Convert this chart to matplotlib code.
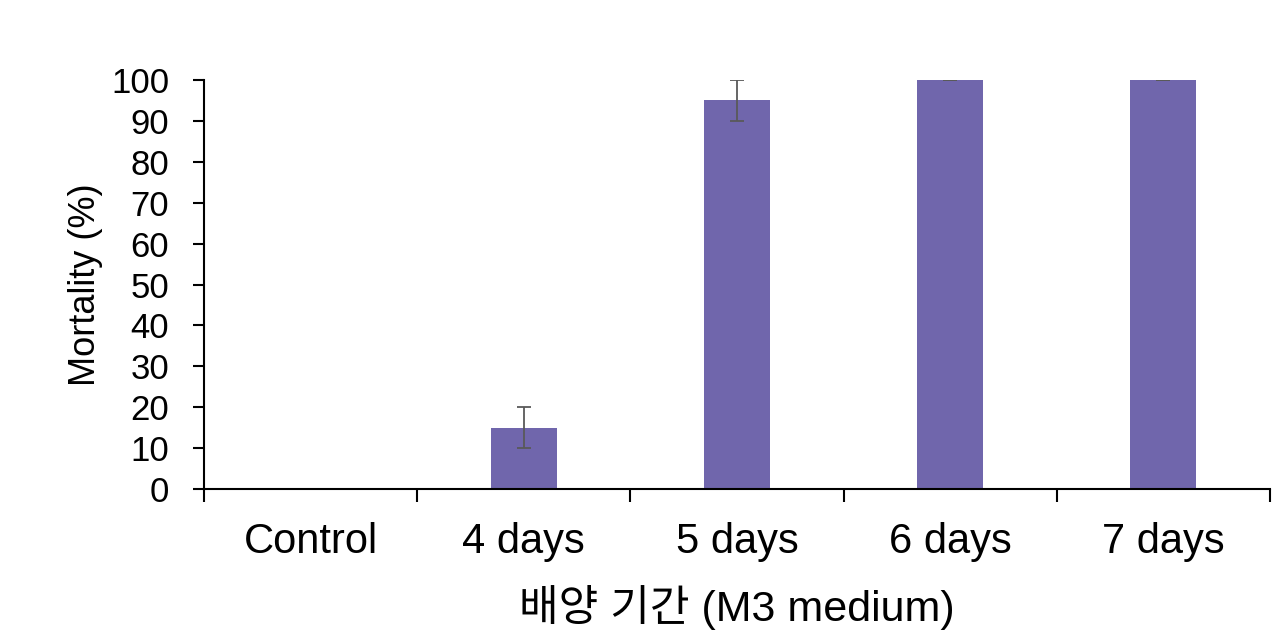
import numpy as np
import matplotlib
matplotlib.use("Agg")
import matplotlib.pyplot as plt

plt.rcParams['font.family'] = ['Liberation Sans', 'Noto Sans CJK KR', 'DejaVu Sans']

categories = ["Control", "4 days", "5 days", "6 days", "7 days"]
mortality = [0, 15, 95, 100, 100]
errors = [0, 5, 5, 0, 0]

fig = plt.figure(figsize=(12.72, 6.37), dpi=100)
ax = fig.add_axes([0.1604, 0.2323, 0.8380, 0.6421])

x = np.arange(len(categories))
ax.bar(x, mortality, width=0.31, color='#7066ac',
       yerr=errors, error_kw=dict(ecolor='#595959', elinewidth=1.3, capsize=5, capthick=1.3))

ax.set_xlim(-0.5, len(categories) - 0.5)
ax.set_ylim(0, 100)
ax.set_yticks(np.arange(0, 101, 10))

# boundary ticks (major, unlabeled) + centered labels (minor, no tick mark)
ax.set_xticks(np.arange(-0.5, len(categories), 1.0))
ax.set_xticklabels([])
ax.set_xticks(x, minor=True)
ax.set_xticklabels(categories, minor=True)
ax.tick_params(axis='x', which='major', length=9, width=1.5, direction='out')
ax.tick_params(axis='x', which='minor', length=0, pad=24, labelsize=30)
ax.tick_params(axis='y', length=8, width=1.5, direction='out', pad=17, labelsize=25)

for s in ['top', 'right']:
    ax.spines[s].set_visible(False)
for s in ['left', 'bottom']:
    ax.spines[s].set_linewidth(1.5)

ax.set_ylabel("Mortality (%)", fontsize=26, labelpad=6)
ax.set_xlabel("배양 기간 (M3 medium)", fontsize=31, labelpad=16)

fig.savefig("out.png", dpi=100)
